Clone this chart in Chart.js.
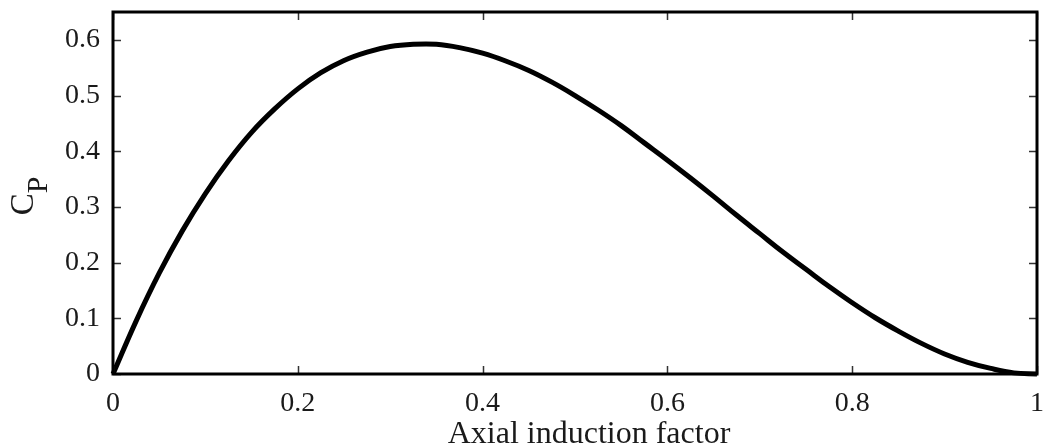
<!DOCTYPE html>
<html>
<head>
<meta charset="utf-8">
<script src="https://cdn.jsdelivr.net/npm/chart.js@4.4.1/dist/chart.umd.min.js"></script>
<style>
  html, body { margin: 0; padding: 0; background: #fff; }
  #wrap { width: 1043px; height: 448px; position: relative; }
</style>
</head>
<body>
<div id="wrap"><canvas id="c" width="1043" height="448"></canvas></div>
<script>
// Axial induction factor (a) and power coefficient C_P
const inductionFactor = [0, 0.025, 0.05, 0.075, 0.1, 0.125, 0.15, 0.175, 0.2, 0.225, 0.25, 0.275, 0.3, 0.325, 0.35, 0.375, 0.4, 0.425, 0.45, 0.475, 0.5, 0.525, 0.55, 0.575, 0.6, 0.625, 0.65, 0.675, 0.7, 0.725, 0.75, 0.775, 0.8, 0.825, 0.85, 0.875, 0.9, 0.925, 0.95, 0.975, 1.0];
const powerCoefficient = [0, 0.095, 0.181, 0.257, 0.324, 0.383, 0.434, 0.476, 0.512, 0.541, 0.563, 0.578, 0.588, 0.592, 0.592, 0.586, 0.576, 0.562, 0.545, 0.524, 0.5, 0.474, 0.446, 0.415, 0.384, 0.352, 0.319, 0.285, 0.252, 0.219, 0.188, 0.157, 0.128, 0.101, 0.077, 0.055, 0.036, 0.021, 0.010, 0.002, 0];
const xTickValues = [0, 0.2, 0.4, 0.6, 0.8, 1];
const yTickValues = [0, 0.1, 0.2, 0.3, 0.4, 0.5, 0.6];
const xTitle = 'Axial induction factor';
const yTitleMain = 'C';
const yTitleSub = 'P';

const FONT = '"Liberation Serif", "DejaVu Serif", serif';
const INK = '#1a1a1a';

const fmt = v => {
  const r = Math.round(v * 10) / 10;
  return r === 0 ? '0' : (r === 1 ? '1' : r.toFixed(1));
};

const zeroPad = s => { s.paddingLeft = 0; s.paddingRight = 0; s.paddingTop = 0; s.paddingBottom = 0; };

const framePlugin = {
  id: 'frame',
  afterDraw(chart) {
    const ctx = chart.ctx;
    const a = chart.chartArea;
    const xs = chart.scales.x, ys = chart.scales.y;
    ctx.save();
    // inward tick marks
    ctx.strokeStyle = '#333';
    ctx.lineWidth = 1.5;
    const tl = 8;
    xTickValues.forEach(v => {
      const px = Math.round(xs.getPixelForValue(v)) + 0.5;
      ctx.beginPath();
      ctx.moveTo(px, a.bottom); ctx.lineTo(px, a.bottom - tl);
      ctx.moveTo(px, a.top); ctx.lineTo(px, a.top + tl);
      ctx.stroke();
    });
    yTickValues.forEach(v => {
      const py = Math.round(ys.getPixelForValue(v)) + 0.5;
      ctx.beginPath();
      ctx.moveTo(a.left, py); ctx.lineTo(a.left + tl, py);
      ctx.moveTo(a.right, py); ctx.lineTo(a.right - tl, py);
      ctx.stroke();
    });
    // frame
    ctx.strokeStyle = '#000';
    ctx.lineWidth = 3;
    ctx.strokeRect(a.left, a.top, a.right - a.left, a.bottom - a.top);
    // x title
    ctx.fillStyle = INK;
    ctx.font = '32px ' + FONT;
    ctx.textAlign = 'center';
    ctx.textBaseline = 'alphabetic';
    ctx.fillText(xTitle, 589, 443);
    // y title with subscript
    ctx.translate(33, 196);
    ctx.rotate(-Math.PI / 2);
    ctx.textAlign = 'left';
    ctx.font = '33px ' + FONT;
    const wC = ctx.measureText(yTitleMain).width;
    ctx.font = '30px ' + FONT;
    const wP = ctx.measureText(yTitleSub).width;
    const start = -(wC + wP) / 2;
    ctx.font = '33px ' + FONT;
    ctx.fillText(yTitleMain, start, 0);
    ctx.font = '30px ' + FONT;
    ctx.fillText(yTitleSub, start + wC, 14);
    ctx.restore();
  }
};

new Chart(document.getElementById('c'), {
  type: 'line',
  data: {
    datasets: [{
      data: inductionFactor.map((a, i) => ({ x: a, y: powerCoefficient[i] })),
      borderColor: '#000',
      borderWidth: 5,
      pointRadius: 0,
      fill: false,
      tension: 0.4,
      clip: false
    }]
  },
  options: {
    responsive: false,
    animation: false,
    devicePixelRatio: 1,
    layout: { padding: { left: 0, top: 12, right: 6, bottom: 0 } },
    plugins: { legend: { display: false }, tooltip: { enabled: false } },
    scales: {
      x: {
        type: 'linear', min: 0, max: 1,
        grid: { display: false, drawTicks: false },
        border: { display: false },
        afterBuildTicks: s => { s.ticks = xTickValues.map(v => ({ value: v })); },
        afterFit: s => { s.height = 74; zeroPad(s); },
        ticks: {
          padding: 13, color: INK, maxRotation: 0, autoSkip: false,
          font: { family: FONT, size: 28 },
          callback: v => fmt(v)
        }
      },
      y: {
        type: 'linear', min: 0, max: 0.65,
        grid: { display: false, drawTicks: false },
        border: { display: false },
        afterBuildTicks: s => { s.ticks = yTickValues.map(v => ({ value: v })); },
        afterFit: s => { s.width = 113; zeroPad(s); },
        ticks: {
          padding: 13, color: INK, autoSkip: false,
          font: { family: FONT, size: 28 },
          callback: v => fmt(v)
        }
      }
    }
  },
  plugins: [framePlugin]
});
</script>
</body>
</html>
